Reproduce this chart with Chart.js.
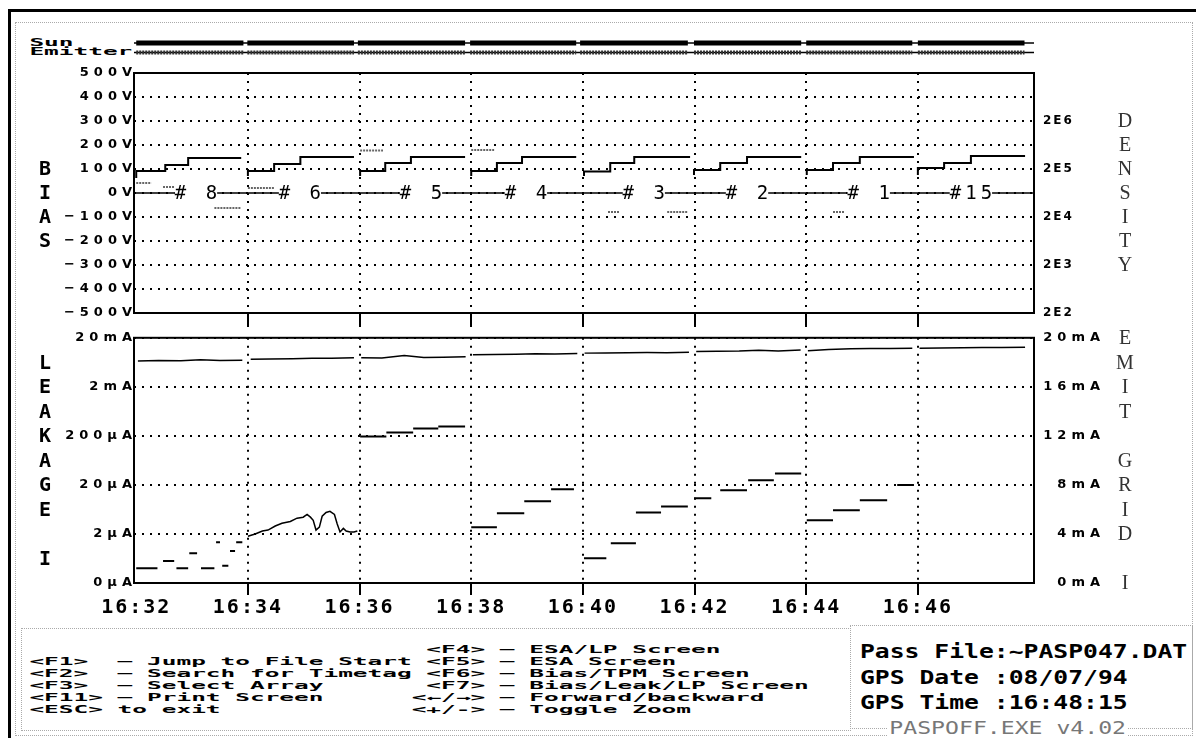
<!DOCTYPE html>
<html>
<head>
<meta charset="utf-8">
<script src="https://cdn.jsdelivr.net/npm/chart.js@4.4.1/dist/chart.umd.min.js"></script>
<style>
  body { margin: 0; background: #fff; }
  #screen { position: relative; width: 1196px; height: 738px; overflow: hidden; background: #fff; }
  canvas { position: absolute; left: 0; }
  #top { top: 0; }
  #bot { top: 330px; }
  .frame { position: absolute; background: #000; }
  .faint { position: absolute; border: 1px dotted #aaa; }
  .dos { position: absolute; left: 0; margin: 0; font: bold 10px/12px "DejaVu Sans Mono", monospace; white-space: pre;
         transform: scaleX(2.442); transform-origin: 0 0; color: #000; }
  .info { position: absolute; left: 860px; top: 639px; margin: 0; font: bold 19px/25.5px "DejaVu Sans Mono", monospace;
          white-space: pre; transform: scaleX(1.3); transform-origin: 0 0; color: #000; }
  .ver { position: absolute; left: 888px; top: 718px; font: 17px/20px "DejaVu Sans Mono", monospace; color: #777;
         background: #fff; transform: scaleX(1.36); transform-origin: 0 0; white-space: pre; padding: 0 1px; }
</style>
</head>
<body>
<div id="screen">
  <div class="faint" style="left:15px;top:22px;width:1176px;height:712px"></div>
  <div class="faint" style="left:21px;top:628px;width:828px;height:101px"></div>
  <div class="faint" style="left:850px;top:625px;width:341px;height:102px"></div>
  <div class="frame" style="left:8px;top:9px;width:1188px;height:3px"></div>
  <div class="frame" style="left:8px;top:9px;width:3px;height:729px"></div>

  <div class="dos" style="top:37px">  Sun</div>
  <div class="dos" style="top:46px">  Emitter</div>

  <canvas id="top" width="1196" height="330"></canvas>
  <canvas id="bot" width="1196" height="300"></canvas>

<pre class="dos" style="top:644px">                             &lt;F4&gt; — ESA/LP Screen
  &lt;F1&gt;  — Jump to File Start &lt;F5&gt; — ESA Screen
  &lt;F2&gt;  — Search for Timetag &lt;F6&gt; — Bias/TPM Screen
  &lt;F3&gt;  — Select Array       &lt;F7&gt; — Bias/Leak/LP Screen
  &lt;F11&gt; — Print Screen      &lt;←/→&gt; — Forward/backward
  &lt;ESC&gt; to exit             &lt;+/-&gt; — Toggle Zoom</pre>

<pre class="info">Pass File:~PASP047.DAT
GPS Date :08/07/94
GPS Time :16:48:15</pre>
  <div class="ver">PASPOFF.EXE v4.02</div>
</div>

<script>
// time axis: minutes after 16:32
const timeMin = -0.04;
const timeMax = 16.08;
const timeTickVals = [0, 2, 4, 6, 8, 10, 12, 14];
const timeTickLabels = ['16:32', '16:34', '16:36', '16:38', '16:40', '16:42', '16:44', '16:46'];

// one block per array
const arrayNames = ['# 8', '# 6', '# 5', '# 4', '# 3', '# 2', '# 1', '#15'];
const arrayLabelAt = [1.07, 2.93, 5.10, 6.98, 9.09, 10.94, 13.12, 14.95];
const sunStart = [0.00, 1.99, 3.97, 5.98, 7.95, 9.99, 12.00, 14.00];
const sunEnd = [1.92, 3.90, 5.89, 7.88, 9.88, 11.91, 13.90, 15.91];

// axis ticks
const biasTickVals = [-500, -400, -300, -200, -100, 0, 100, 200, 300, 400, 500];
const biasTickLabels = ['−500V', '−400V', '−300V', '−200V', '−100V', '0V', '100V', '200V', '300V', '400V', '500V'];
const densityTickVals = [-500, -300, -100, 100, 300];
const densityTickLabels = ['2E2', '2E3', '2E4', '2E5', '2E6'];
const leakTickVals = [0.2, 2, 20, 200, 2000, 20000];
const leakTickLabels = ['0µA', '2µA', '20µA', '200µA', '2mA', '20mA'];
const emitTickVals = [0, 4, 8, 12, 16, 20];
const emitTickLabels = ['0mA', '4mA', '8mA', '12mA', '16mA', '20mA'];

// bias sweep (V), steps per array
const biasTime = [
  [0.00, 0.52, 0.93, 1.40, 1.88],
  [2.00, 2.47, 2.94, 3.38, 3.90],
  [4.01, 4.46, 4.92, 5.41, 5.89],
  [6.00, 6.46, 6.91, 7.39, 7.88],
  [8.02, 8.49, 8.92, 9.40, 9.92],
  [9.99, 10.46, 10.94, 11.42, 11.91],
  [12.01, 12.48, 12.96, 13.45, 13.93],
  [14.00, 14.47, 14.95, 15.43, 15.92]
];
const biasVolts = [
  [62, 92, 117, 146, 146],
  [71, 92, 121, 150, 150],
  [71, 92, 125, 150, 150],
  [71, 92, 125, 150, 150],
  [71, 90, 125, 150, 150],
  [75, 96, 125, 150, 150],
  [75, 96, 125, 150, 150],
  [75, 104, 125, 154, 154]
];
// short grey bias traces
const auxStart = [0.00, 0.48, 1.40, 2.00, 4.01, 6.00, 8.45, 9.51, 12.48];
const auxEnd = [0.27, 0.68, 1.88, 2.47, 4.42, 6.41, 8.65, 9.88, 12.69];
const auxVolts = [42, 25, -62, 21, 177, 179, -79, -79, -79];

// leakage current (µA), step dashes
const leakStart = [0.00, 0.48, 0.72, 0.95, 1.16, 1.43, 1.54, 1.68, 1.79,
  4.01, 4.48, 4.96, 5.41, 6.00, 6.46, 6.95, 7.43, 8.02, 8.50, 8.95, 9.40,
  9.99, 10.46, 10.96, 11.44, 12.01, 12.48, 12.96, 13.63];
const leakEnd = [0.38, 0.68, 0.93, 1.09, 1.40, 1.50, 1.65, 1.77, 1.90,
  4.48, 4.96, 5.41, 5.89, 6.46, 6.95, 7.43, 7.84, 8.42, 8.95, 9.40, 9.88,
  10.30, 10.94, 11.42, 11.91, 12.48, 12.96, 13.45, 13.93];
const leakUA = [0.40, 0.56, 0.40, 0.81, 0.40, 1.35, 0.45, 0.90, 1.35,
  194, 234, 283, 310, 2.75, 5.3, 9.3, 16.3, 0.64, 1.3, 5.5, 7.3,
  10.7, 15.5, 25, 34, 3.8, 6.1, 9.7, 20];
// leakage for array #6 (noisy trace)
const waveTime = [2.00, 2.13, 2.26, 2.36, 2.49, 2.61, 2.76, 2.88, 2.99, 3.06, 3.12, 3.17, 3.22,
  3.28, 3.33, 3.40, 3.47, 3.55, 3.60, 3.65, 3.71, 3.76, 3.83, 3.90, 3.96];
const waveUA = [1.8, 2.0, 2.3, 2.4, 2.9, 3.3, 3.6, 4.2, 4.4, 5.0, 4.4, 3.8, 2.4,
  2.75, 4.6, 5.5, 5.8, 5.0, 3.2, 2.2, 2.6, 2.3, 2.2, 2.2, 2.3];

// emit grid current (mA)
const emitTime = [
  [0.03, 0.40, 0.80, 1.15, 1.50, 1.90],
  [2.05, 2.40, 2.80, 3.15, 3.50, 3.90],
  [4.03, 4.40, 4.80, 5.15, 5.50, 5.90],
  [6.03, 6.40, 6.80, 7.15, 7.50, 7.90],
  [8.03, 8.40, 8.80, 9.15, 9.50, 9.90],
  [10.03, 10.40, 10.80, 11.15, 11.50, 11.90],
  [12.03, 12.40, 12.80, 13.15, 13.50, 13.90],
  [14.03, 14.40, 14.80, 15.15, 15.50, 15.92]
];
const emitMA = [
  [18.10, 18.15, 18.12, 18.20, 18.14, 18.16],
  [18.25, 18.28, 18.30, 18.34, 18.33, 18.37],
  [18.37, 18.36, 18.55, 18.40, 18.42, 18.45],
  [18.62, 18.64, 18.66, 18.70, 18.68, 18.72],
  [18.75, 18.76, 18.78, 18.80, 18.79, 18.82],
  [18.88, 18.90, 18.92, 18.98, 18.92, 19.00],
  [18.95, 19.05, 19.10, 19.12, 19.13, 19.14],
  [19.15, 19.17, 19.18, 19.20, 19.20, 19.22]
];

// side titles
const biasTitle = ['B', 'I', 'A', 'S'];
const biasTitleAt = [100, 0, -100, -200];
const densityTitle = ['D', 'E', 'N', 'S', 'I', 'T', 'Y'];
const densityTitleAt = [300, 200, 100, 0, -100, -200, -300];
const leakTitle = ['L', 'E', 'A', 'K', 'A', 'G', 'E', 'I'];
const leakTitleAt = [18, 16, 14, 12, 10, 8, 6, 2];        // on emit mA scale
const emitTitle = ['E', 'M', 'I', 'T', 'G', 'R', 'I', 'D', 'I'];
const emitTitleAt = [20, 18, 16, 14, 10, 8, 6, 4, 0];

// build line data with gaps between groups
function groups(times, vals) {
  const out = [];
  times.forEach((ts, k) => {
    ts.forEach((t, i) => out.push({ x: t, y: vals[k][i] }));
    out.push({ x: ts[ts.length - 1], y: null });
  });
  return out;
}
function dashes(starts, ends, vals) {
  const out = [];
  starts.forEach((s, i) => {
    out.push({ x: s, y: vals[i] }, { x: ends[i], y: vals[i] }, { x: ends[i], y: null });
  });
  return out;
}

const DOT = [2, 6];
const WIDE = '5px';   // letter spacing of the blocky axis labels
const clearIdx = c => c.index === 0 ? 'rgba(0,0,0,0)' : '#000';

function timeAxis(showLabels, tickLen, height) {
  return {
    type: 'linear', min: timeMin, max: timeMax,
    afterBuildTicks: s => { s.ticks = timeTickVals.map(v => ({ value: v })); },
    ticks: {
      display: showLabels, autoSkip: false, maxRotation: 0, padding: 1, z: 1, color: '#000',
      font: { family: 'DejaVu Sans Mono', weight: 'bold', size: 20 },
      callback: (v, i) => timeTickLabels[i]
    },
    grid: { color: clearIdx, lineWidth: 2, drawTicks: true, tickLength: tickLen, tickColor: clearIdx, tickWidth: 2 },
    border: { display: false, dash: DOT },
    afterFit: s => { s.height = height; }
  };
}
const wideFont = { family: 'DejaVu Sans', weight: 'bold', size: 13 };

function drawLetters(ctx, letters, at, scale, x, font, color) {
  ctx.font = font;
  ctx.fillStyle = color;
  ctx.textAlign = 'center';
  ctx.textBaseline = 'middle';
  letters.forEach((ch, i) => ctx.fillText(ch, x, scale.getPixelForValue(at[i]) + 1));
}

const screenTop = {
  id: 'screenTop',
  beforeDraw(chart) { chart.ctx.letterSpacing = WIDE; },
  afterDatasetsDraw(chart) { chart.ctx.letterSpacing = '2px'; },
  afterDraw(chart) {
    const { ctx, chartArea: a, scales: { x, y } } = chart;
    ctx.save();
    ctx.letterSpacing = '0px';
    ctx.lineCap = 'butt';

    // Sun / Emitter strips
    ctx.strokeStyle = '#000';
    ctx.lineWidth = 1.5;
    [43, 52.5].forEach(yy => {
      ctx.beginPath(); ctx.moveTo(a.left, yy); ctx.lineTo(a.right, yy); ctx.stroke();
    });
    sunStart.forEach((s, i) => {
      const x0 = x.getPixelForValue(s), x1 = x.getPixelForValue(sunEnd[i]);
      ctx.setLineDash([]);
      ctx.strokeStyle = '#000'; ctx.lineWidth = 5;
      ctx.beginPath(); ctx.moveTo(x0, 43); ctx.lineTo(x1, 43); ctx.stroke();
      ctx.setLineDash([2, 1]);
      ctx.strokeStyle = '#333'; ctx.lineWidth = 4;
      ctx.beginPath(); ctx.moveTo(x0, 52.5); ctx.lineTo(x1, 52.5); ctx.stroke();
    });
    ctx.setLineDash([]);

    // array numbers on the 0V line
    ctx.font = '19px "DejaVu Sans Mono"';
    ctx.letterSpacing = '4px';
    ctx.textAlign = 'center';
    ctx.textBaseline = 'middle';
    const y0 = y.getPixelForValue(0);
    arrayNames.forEach((n, i) => {
      const cx = x.getPixelForValue(arrayLabelAt[i]);
      const w = ctx.measureText(n).width - 4;
      ctx.fillStyle = '#fff';
      ctx.fillRect(cx - w / 2, y0 - 8, w, 16);
      ctx.fillStyle = '#000';
      ctx.fillText(n, cx + 2, y0 + 1);
    });
    ctx.letterSpacing = '0px';

    drawLetters(ctx, biasTitle, biasTitleAt, y, 45, 'bold 20px "DejaVu Sans Mono"', '#000');
    drawLetters(ctx, densityTitle, densityTitleAt, y, 1125, '20px "Liberation Serif"', '#333');

    ctx.strokeStyle = '#000';
    ctx.lineWidth = 2;
    ctx.strokeRect(a.left, a.top, a.width, a.height);
    ctx.restore();
  }
};

const screenBot = {
  id: 'screenBot',
  beforeDraw(chart) { chart.ctx.letterSpacing = WIDE; },
  afterDatasetsDraw(chart) { chart.ctx.letterSpacing = '2px'; },
  afterDraw(chart) {
    const { ctx, chartArea: a, scales: { yEmit } } = chart;
    ctx.save();
    ctx.letterSpacing = '0px';
    drawLetters(ctx, leakTitle, leakTitleAt, yEmit, 45, 'bold 20px "DejaVu Sans Mono"', '#000');
    drawLetters(ctx, emitTitle, emitTitleAt, yEmit, 1125, '20px "Liberation Serif"', '#333');
    ctx.strokeStyle = '#000';
    ctx.lineWidth = 2;
    ctx.strokeRect(a.left, a.top, a.width, a.height);
    ctx.restore();
  }
};

const common = {
  responsive: false, animation: false, devicePixelRatio: 1, events: [],
  plugins: { legend: { display: false }, tooltip: { enabled: false } },
  elements: { point: { radius: 0 }, line: { tension: 0 } }
};

new Chart(document.getElementById('top'), {
  type: 'line',
  data: {
    datasets: [
      { label: 'Bias', data: groups(biasTime, biasVolts), borderColor: '#000', borderWidth: 2, stepped: 'after' },
      { label: 'Array', data: [{ x: timeMin, y: 0 }, { x: timeMax, y: 0 }], borderColor: '#000', borderWidth: 1.5 },
      { label: 'Bias trace', data: dashes(auxStart, auxEnd, auxVolts), borderColor: '#666', borderWidth: 2, borderDash: [2, 1] }
    ]
  },
  options: {
    ...common,
    layout: { padding: { top: 73, right: 102, bottom: 0, left: 0 } },
    scales: {
      x: timeAxis(false, 14, 17),
      y: {
        position: 'left', min: -500, max: 500,
        afterBuildTicks: s => { s.ticks = biasTickVals.map(v => ({ value: v })); },
        ticks: { autoSkip: false, padding: -3, color: '#000', font: wideFont, callback: (v, i) => biasTickLabels[i] },
        grid: { color: '#000', lineWidth: 2, drawTicks: false },
        border: { display: false, dash: DOT },
        afterFit: s => { s.width = 134; }
      },
      yDen: {
        position: 'right', min: -500, max: 500,
        afterBuildTicks: s => { s.ticks = densityTickVals.map(v => ({ value: v })); },
        ticks: { autoSkip: false, padding: 9, z: 1, color: '#000', font: { family: 'DejaVu Sans', weight: 'bold', size: 12 },
                 callback: (v, i) => densityTickLabels[i] },
        grid: { display: false, drawTicks: false },
        border: { display: false },
        afterFit: s => { s.width = 60; }
      }
    }
  },
  plugins: [screenTop]
});

const emitData = groups(emitTime, emitMA);
const waveData = waveTime.map((t, i) => ({ x: t, y: waveUA[i] }));

new Chart(document.getElementById('bot'), {
  type: 'line',
  data: {
    datasets: [
      { label: 'Leakage', data: dashes(leakStart, leakEnd, leakUA), yAxisID: 'yLeak', borderColor: '#000', borderWidth: 2 },
      { label: 'Leakage #6', data: waveData, yAxisID: 'yLeak', borderColor: '#000', borderWidth: 1.5 },
      { label: 'Emit grid', data: emitData, yAxisID: 'yEmit', borderColor: '#000', borderWidth: 1.5 }
    ]
  },
  options: {
    ...common,
    layout: { padding: { top: 7, right: 91, bottom: 0, left: 0 } },
    scales: {
      x: timeAxis(true, 12, 47),
      yLeak: {
        type: 'logarithmic', position: 'left', min: 0.2, max: 20000,
        afterBuildTicks: s => { s.ticks = leakTickVals.map(v => ({ value: v })); },
        ticks: { autoSkip: false, padding: -3, color: '#000', font: wideFont, callback: (v, i) => leakTickLabels[i] },
        grid: { color: '#000', lineWidth: 2, drawTicks: false },
        border: { display: false, dash: DOT },
        afterFit: s => { s.width = 134; }
      },
      yEmit: {
        type: 'linear', position: 'right', min: 0, max: 20,
        afterBuildTicks: s => { s.ticks = emitTickVals.map(v => ({ value: v })); },
        ticks: { autoSkip: false, padding: 0, crossAlign: 'far', color: '#000', font: wideFont,
                 callback: (v, i) => emitTickLabels[i] },
        grid: { display: false, drawTicks: false },
        border: { display: false },
        afterFit: s => { s.width = 71; }
      }
    }
  },
  plugins: [screenBot]
});
</script>
</body>
</html>
